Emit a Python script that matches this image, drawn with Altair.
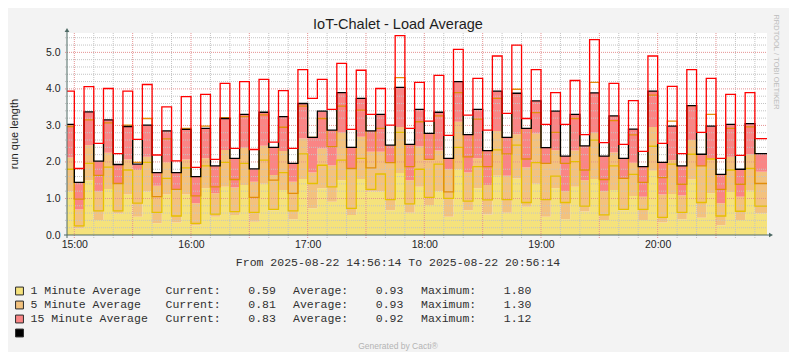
import altair as alt
import pandas as pd

# ---- data (one value per 5-minute step) ----
red_top = [3.94, 1.82, 4.06, 2.51, 4.01, 2.23, 3.94, 2.62, 4.12, 2.19, 3.51, 2.03, 3.79, 1.85, 3.85, 2.07,
           4.15, 2.37, 4.20, 2.34, 4.26, 2.54, 3.95, 2.37, 4.53, 3.74, 4.26, 3.44, 4.70, 2.89, 4.51, 3.30,
           4.01, 3.01, 5.46, 2.92, 4.18, 3.12, 4.37, 2.73, 5.08, 3.28, 4.29, 2.87, 4.90, 3.33, 5.20, 3.19,
           4.53, 3.03, 3.90, 3.03, 4.23, 2.75, 5.35, 2.53, 4.15, 2.48, 3.68, 2.29, 4.90, 2.51, 4.07, 2.23,
           4.53, 2.81, 4.29, 2.10, 3.85, 2.18, 3.90, 2.64]
black_top = [3.03, 1.44, 3.37, 2.02, 3.15, 1.93, 2.97, 1.94, 3.01, 1.71, 2.85, 1.71, 2.89, 1.60, 2.92, 1.89,
             3.19, 2.10, 3.30, 1.81, 3.36, 2.40, 3.24, 1.96, 3.60, 2.67, 3.39, 2.87, 3.90, 2.40, 3.74, 2.85,
             3.30, 2.46, 4.04, 2.48, 3.44, 2.78, 3.36, 2.10, 4.20, 2.75, 3.44, 2.31, 3.94, 2.67, 3.88, 2.92,
             3.67, 2.39, 3.39, 2.16, 3.30, 2.44, 3.89, 2.16, 3.26, 2.10, 2.90, 1.87, 3.94, 1.99, 2.98, 1.89,
             3.54, 2.21, 2.98, 1.66, 3.03, 1.80, 3.05, 2.23]
orange_fill_top = [2.12, 0.70, 2.46, 1.19, 2.25, 1.41, 2.07, 1.78, 2.14, 1.35, 1.99, 1.25, 2.07, 0.87, 2.10, 1.14,
                   2.33, 1.30, 2.39, 1.46, 2.44, 1.64, 2.30, 1.46, 2.64, 1.71, 2.37, 1.90, 2.80, 1.82, 2.69, 2.28,
                   2.28, 1.98, 2.96, 1.50, 2.42, 2.07, 2.31, 1.80, 3.10, 1.71, 2.10, 1.37, 2.85, 1.62, 2.76, 1.85,
                   2.78, 1.96, 2.32, 1.20, 2.31, 1.50, 2.80, 1.20, 2.26, 1.53, 1.98, 1.05, 2.96, 1.11, 2.05, 1.08,
                   2.60, 1.89, 2.08, 0.87, 2.14, 1.05, 2.21, 1.73]
yellow_fill_top = [1.19, 0.18, 1.49, 0.41, 1.26, 0.59, 1.11, 0.50, 1.19, 0.32, 1.11, 0.34, 1.11, 0.27, 1.28, 0.50,
                   1.32, 0.55, 1.37, 0.36, 1.40, 0.68, 1.23, 0.43, 1.53, 0.73, 1.28, 0.91, 1.50, 0.55, 1.53, 1.19,
                   1.19, 0.68, 1.70, 0.61, 1.32, 0.82, 1.20, 0.50, 1.80, 0.68, 1.28, 0.56, 1.62, 0.61, 1.55, 0.77,
                   1.40, 0.50, 1.28, 0.43, 1.32, 0.64, 1.53, 0.41, 1.23, 0.68, 1.07, 0.41, 1.76, 0.34, 1.12, 0.43,
                   1.52, 0.47, 1.14, 0.27, 1.18, 0.41, 1.21, 0.59]
orange_line = [2.97, 0.98, 3.15, 1.63, 3.07, 1.41, 3.01, 1.99, 3.19, 1.05, 2.63, 1.25, 2.92, 1.07, 2.98, 1.32,
               3.21, 1.52, 3.24, 1.03, 3.29, 1.50, 2.95, 1.14, 3.53, 2.67, 3.19, 2.42, 3.53, 1.82, 3.42, 1.84,
               2.92, 1.98, 4.31, 1.87, 3.10, 2.07, 3.26, 1.18, 3.90, 2.14, 3.17, 1.87, 3.74, 2.22, 3.99, 2.08,
               3.35, 1.96, 2.81, 1.96, 3.19, 1.78, 4.18, 1.52, 3.13, 1.55, 2.74, 1.44, 3.83, 1.57, 3.12, 1.39,
               3.54, 1.89, 3.30, 1.25, 2.92, 1.39, 2.96, 1.41]
yellow_line = [1.80, 0.25, 1.96, 0.66, 1.86, 0.66, 1.78, 0.87, 1.99, 0.62, 1.55, 0.52, 1.84, 0.32, 1.89, 0.57,
               1.99, 0.64, 1.96, 0.62, 2.05, 0.70, 1.71, 0.66, 2.22, 1.41, 1.91, 1.32, 2.05, 0.73, 2.10, 1.25,
               1.67, 0.97, 2.81, 0.85, 1.80, 1.03, 1.94, 1.00, 2.40, 0.93, 1.87, 0.96, 2.33, 0.97, 2.46, 0.89,
               1.98, 0.97, 1.61, 0.89, 2.01, 0.79, 2.60, 0.55, 1.89, 0.70, 1.66, 0.70, 2.43, 0.48, 1.94, 0.62,
               2.21, 0.89, 2.08, 0.52, 1.78, 0.65, 1.82, 0.79]

series_names = ["1 Minute Average", "5 Minute Average", "15 Minute Average"]
current = [0.59, 0.81, 0.83]
average = [0.93, 0.93, 0.92]
maximum = [1.80, 1.30, 1.12]

title_text = "IoT-Chalet - Load Average"
y_title = "run que length"
range_text = "From 2025-08-22 14:56:14 To 2025-08-22 20:56:14"
footer_text = "Generated by Cacti\u00ae"
side_text = "RRDTOOL / TOBI OETIKER"
hour_labels = [15, 16, 17, 18, 19, 20]

# ---- build table ----
start = pd.Timestamp("2025-08-22 14:56:14")
end = pd.Timestamp("2025-08-22 20:56:14")
times = [start] + list(pd.date_range("2025-08-22 15:00", periods=71, freq="5min")) + [end]


def ext(a):
    return list(a) + [a[-1]]


df = pd.DataFrame({
    "t": [t.strftime("%Y-%m-%dT%H:%M:%S") for t in times],
    "r": ext(red_top),
    "k": ext(black_top),
    "o": ext(orange_fill_top),
    "yf": ext(yellow_fill_top),
    "ol": ext(orange_line),
    "yl": ext(yellow_line),
})

# ---- styles ----
YF = "#F5E27C"
OF = "#F3C27E"
RF = "#FA8585"
YL = "#E6C000"
OL = "#E28E0A"
AXC = "#4E6A65"
SANS = "Liberation Sans"
MONO = "Liberation Mono"
NB = "\u00a0"


def dt(h, m=0, s=0):
    return alt.DateTime(year=2025, month=8, date=22, hours=h, minutes=m, seconds=s)


x_scale = alt.Scale(domain=[dt(14, 56, 14), dt(20, 56, 14)])
y_scale = alt.Scale(domain=[0, 5.53], nice=False, zero=True)
x_axis = alt.Axis(values=[dt(h) for h in hour_labels], format="%H:%M", title=None, grid=False,
                  domain=False, ticks=False, labelPadding=4, labelFont=SANS, labelFontSize=10.5,
                  labelColor="#1e1e1e")
y_axis = alt.Axis(values=[0, 1, 2, 3, 4, 5], format=".1f", title=None, grid=False, domain=False,
                  ticks=False, labelPadding=7, labelFont=SANS, labelFontSize=10.5, labelColor="#1e1e1e")

X = alt.X("t:T", scale=x_scale, axis=x_axis)

base = alt.Chart(df)


def area(top, bottom, color):
    enc = dict(x=X, y=alt.Y(f"{top}:Q", scale=y_scale, axis=y_axis))
    if bottom is not None:
        enc["y2"] = alt.Y2(f"{bottom}:Q")
    return base.mark_area(interpolate="step-after", color=color, opacity=1).encode(**enc)


def line(field, color, w=1.3):
    return base.mark_line(interpolate="step-after", color=color, strokeWidth=w).encode(
        x=X, y=alt.Y(f"{field}:Q", scale=y_scale, axis=y_axis))


layers = [
    area("yf", None, YF),
    area("o", "yf", OF),
    area("k", "o", RF),
    area("r", "k", "white"),
]

# grid
minor_x = [t.strftime("%Y-%m-%dT%H:%M:%S") for t in pd.date_range("2025-08-22 15:00", "2025-08-22 20:50", freq="10min") if t.minute % 30 != 0]
major_x = [t.strftime("%Y-%m-%dT%H:%M:%S") for t in pd.date_range("2025-08-22 15:00", "2025-08-22 20:30", freq="30min")]
minor_y = [round(0.2 * i, 1) for i in range(1, 28) if i % 5 != 0]
major_y = [1, 2, 3, 4, 5]

layers.append(alt.Chart(pd.DataFrame({"t": minor_x})).mark_rule(color="#C4C4C4", strokeDash=[1, 1], strokeWidth=1).encode(
    x=X, y=alt.value(0), y2=alt.value(205)))
layers.append(alt.Chart(pd.DataFrame({"v": minor_y})).mark_rule(color="#C4C4C4", strokeDash=[1, 1], strokeWidth=1).encode(
    y=alt.Y("v:Q", scale=y_scale, axis=y_axis), x=alt.value(-2), x2=alt.value(700)))
layers.append(alt.Chart(pd.DataFrame({"t": major_x})).mark_rule(color="#E59393", strokeDash=[1, 1], strokeWidth=1).encode(
    x=X, y=alt.value(0), y2=alt.value(205)))
layers.append(alt.Chart(pd.DataFrame({"v": major_y})).mark_rule(color="#E59393", strokeDash=[1, 1], strokeWidth=1).encode(
    y=alt.Y("v:Q", scale=y_scale, axis=y_axis), x=alt.value(-2), x2=alt.value(700)))

layers += [
    line("yl", YL),
    line("ol", OL),
    line("k", "#000000"),
    line("r", "#FF0000"),
]

one = pd.DataFrame({"a": [0]})

# axes lines + arrows
layers.append(alt.Chart(one).mark_rule(color=AXC, strokeWidth=1).encode(
    x=alt.value(0), y=alt.value(-2), y2=alt.value(205)))
layers.append(alt.Chart(one).mark_rule(color=AXC, strokeWidth=1).encode(
    x=alt.value(-3), x2=alt.value(703), y=alt.value(202)))
layers.append(alt.Chart(one).mark_point(shape="triangle-up", filled=True, color=AXC, size=22, opacity=1).encode(
    x=alt.value(0), y=alt.value(-3)))
layers.append(alt.Chart(one).mark_point(shape="triangle-right", filled=True, color=AXC, size=22, opacity=1).encode(
    x=alt.value(704), y=alt.value(202)))


def text(s, x, y, **kw):
    return alt.Chart(pd.DataFrame({"s": [s.replace(" ", NB)]})).mark_text(**kw).encode(
        text="s:N", x=alt.value(x), y=alt.value(y))


# page coords -> chart coords: (X - 67, Y - 33)
layers.append(text(title_text, 331, -4, font=SANS, fontSize=14.5, color="#1e1e1e", align="center", baseline="alphabetic"))
layers.append(text(y_title, -52, 101, font=SANS, fontSize=11, color="#1e1e1e", align="center", baseline="middle", angle=270))
layers.append(text(side_text, 709, 29, font=SANS, fontSize=7.5, color="#BDBDBD", align="center", baseline="middle", angle=90))
layers.append(text(range_text, 331, 230, font=MONO, fontSize=11.5, color="#303030", align="center", baseline="middle"))
layers.append(text(footer_text, 331, 313, font=SANS, fontSize=8.5, color="#B4B4B4", align="center", baseline="middle"))

box_colors = [YF, OF, RF, "#000000"]
for i in range(4):
    ry = 258 + 14 * i
    layers.append(alt.Chart(one).mark_square(size=62, color=box_colors[i], stroke="#2a2a2a", strokeWidth=1, opacity=1).encode(
        x=alt.value(-47.5), y=alt.value(ry)))
    if i < 3:
        kw = dict(font=MONO, fontSize=11.5, color="#303030", align="left", baseline="middle")
        layers.append(text(series_names[i], -36.5, ry, **kw))
        layers.append(text(f"Current:{current[i]:8.2f}", 98.5, ry, **kw))
        layers.append(text(f"Average:{average[i]:8.2f}", 226, ry, **kw))
        layers.append(text(f"Maximum:{maximum[i]:8.2f}", 354, ry, **kw))

chart = alt.layer(*layers).properties(
    width=700, height=202,
    padding={"left": 59, "top": 25, "right": 22, "bottom": 117},
    autosize=alt.AutoSizeParams(type="none"),
).configure(background="#F3F3F3").configure_view(fill="white", stroke=None)

chart.save("out.html", embed_options={"renderer": "svg", "actions": False})
